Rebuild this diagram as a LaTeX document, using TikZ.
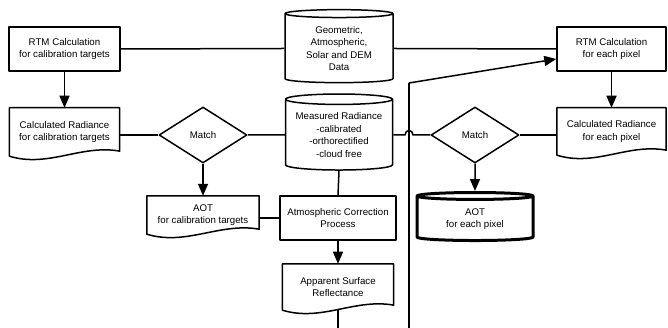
\documentclass[tikz,border=0pt]{standalone}
\usepackage{fontspec}
\setmainfont{Liberation Sans}
\usetikzlibrary{arrows.meta,positioning,shapes.geometric,calc}

\begin{document}
\begin{tikzpicture}[
    x=1pt, y=-1pt,
    font=\fontsize{9.7}{12.5}\selectfont,
    line/.style={line width=1.5pt, line join=round},
    arr/.style={line, -{Triangle[length=12pt, width=10pt]}},
    box/.style={draw, line, align=center, inner sep=0pt},
    doc/.style={align=center, inner sep=0pt,
        append after command={\pgfextra{\let\docnode\tikzlastnode
            \draw[line] (\docnode.south west) -- (\docnode.north west)
                -- (\docnode.north east) -- ($(\docnode.south east)+(0,-5)$)
                .. controls ($(\docnode.south west)!0.65!(\docnode.south east)+(0,-12)$)
                and ($(\docnode.south west)!0.35!(\docnode.south east)+(0,12)$)
                .. (\docnode.south west) -- cycle;}}},
    db/.style={draw, line, cylinder, shape border rotate=90, aspect=0.12,
               align=center, inner sep=0pt},
    match/.style={draw, line, diamond, aspect=1.57, inner sep=0pt,
                  minimum width=88pt, minimum height=56pt}
]
\useasboundingbox (0,0) rectangle (668,328);

% left column
\node[box, minimum width=111pt, minimum height=44pt] (rtmL) at (64.5,49)
    {RTM Calculation\\for calibration targets};
\node[doc, minimum width=110pt, minimum height=48pt, below=36pt of rtmL] (calcL)
    {Calculated Radiance\\for calibration targets};
\node[match] (matchL) at (203,135) {Match};
\node[doc, minimum width=112pt, minimum height=38pt] (aotL) at (203,215)
    {AOT\\for calibration targets};

% middle column
\node[db, minimum width=108pt, minimum height=73pt] (geo) at (339,48.5)
    {Geometric,\\Atmospheric,\\Solar and DEM\\Data};
\node[db, minimum width=107pt, minimum height=76pt] (meas) at (339,135)
    {Measured Radiance\\-calibrated\\-orthorectified\\-cloud free};
\node[box, minimum width=116pt, minimum height=44pt] (atm) at (338,218)
    {Atmospheric Correction\\Process};
\node[doc, minimum width=111pt, minimum height=46pt, below=23pt of atm] (app)
    {Apparent Surface\\Reflectance};

% right column
\node[box, minimum width=109pt, minimum height=44pt] (rtmR) at (611.5,49)
    {RTM Calculation\\for each pixel};
\node[doc, minimum width=109pt, minimum height=47pt, below=36pt of rtmR] (calcR)
    {Calculated Radiance\\for each pixel};
\node[match] (matchR) at (475,135) {Match};
\node[db, line width=3pt, minimum width=116pt, minimum height=48pt] (aotR) at (475,219)
    {AOT\\for each pixel};

\coordinate (outA) at (app.south |- 0,328);
\coordinate (outB) at (409,328);
\coordinate (bend) at (409,83);

% connectors
\draw[arr] (rtmL.south -| calcL.north) -- (calcL.north);
\draw[line] (rtmL.east) -- (geo.west);
\draw[line] (geo.east) -- (rtmR.west);
\draw[arr] (rtmR.south) -- (calcR.north);
\draw[line] (matchL.west -| calcL.east) -- (matchL.west);
\draw[line] (matchL.east) -- (meas.west);
\draw[line] (meas.east) -- (405,135) .. controls (405,129) and (413,129) .. (413,135)
    -- (matchR.west);
\draw[line] (matchR.east) -- (matchR.east -| calcR.west);
\draw[arr] (matchL.south) -- (aotL.north);
\draw[arr] (matchR.south) -- (aotR.north);
\draw[line] (meas.south) -- (atm.north);
\draw[line] (aotL.east |- atm.west) -- (atm.west);
\draw[arr] (atm.south) -- (app.north);
\draw[line] (app.south) -- (outA);
\draw[line] (outB) -- (bend);
\draw[arr] (bend) -- ([yshift=-10pt]rtmR.west);

\end{tikzpicture}
\end{document}
